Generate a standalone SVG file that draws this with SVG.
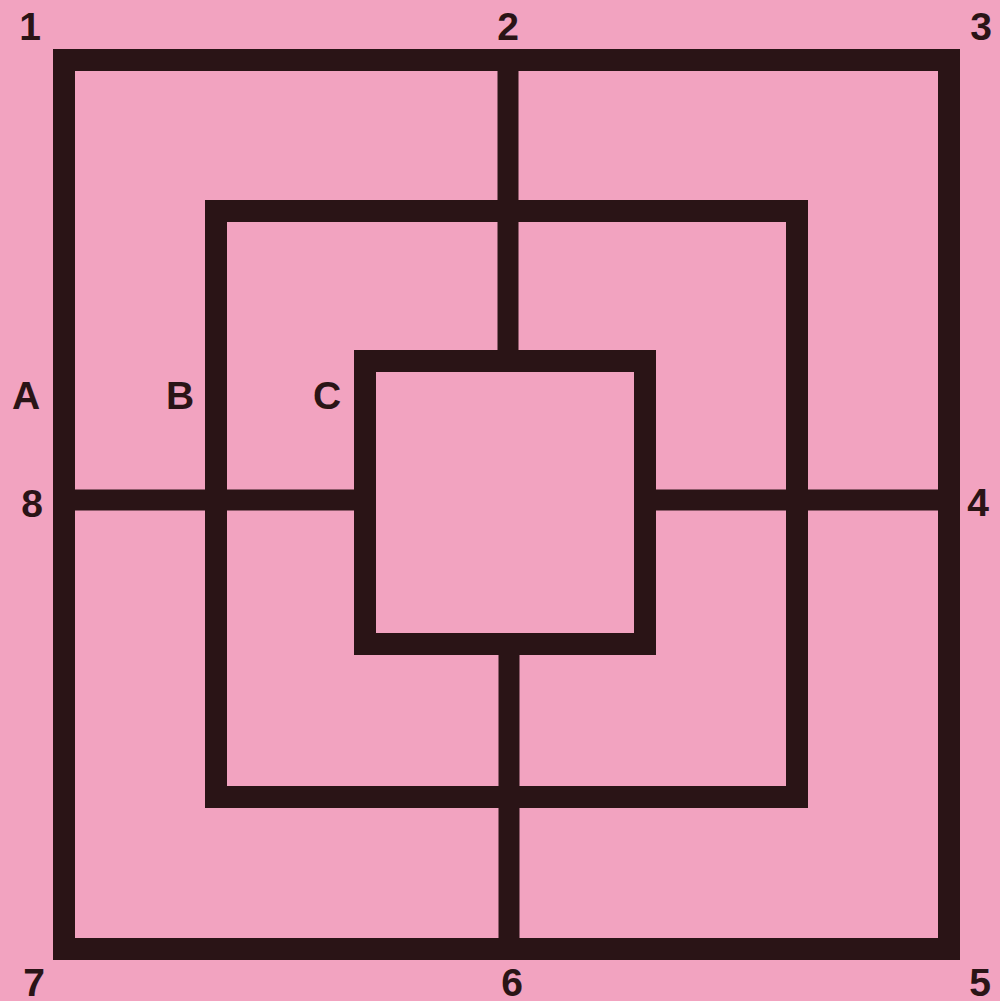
<svg xmlns="http://www.w3.org/2000/svg" width="1000" height="1001" viewBox="0 0 1000 1001">
  <style>
    .sq { fill: none; stroke: #2a1416; stroke-width: 22; stroke-linejoin: miter; }
    .ln { stroke: #2a1416; stroke-width: 21; stroke-linecap: butt; }
    .lbl { font-family: "Liberation Sans", Arial, sans-serif; font-weight: bold; font-size: 39px; fill: #2a1416; text-anchor: middle; }
  </style>
  <rect x="0" y="0" width="1000" height="1001" fill="#f2a3c0"/>
  <g id="connectors">
    <line class="ln" x1="508" y1="60" x2="508" y2="361"/>
    <line class="ln" x1="509" y1="644" x2="509" y2="949"/>
    <line class="ln" x1="64" y1="500" x2="365" y2="500"/>
    <line class="ln" x1="645" y1="500" x2="948" y2="500"/>
  </g>
  <g id="square-A">
    <rect class="sq" x="64" y="60" width="885" height="889"/>
  </g>
  <g id="square-B">
    <rect class="sq" x="216" y="211" width="581" height="586"/>
  </g>
  <g id="square-C">
    <rect class="sq" x="365" y="361" width="280" height="283"/>
  </g>
  <g id="labels">
    <text class="lbl" x="30" y="40">1</text>
    <text class="lbl" x="508" y="40">2</text>
    <text class="lbl" x="981" y="40">3</text>
    <text class="lbl" x="978" y="516">4</text>
    <text class="lbl" x="980" y="996">5</text>
    <text class="lbl" x="512" y="996">6</text>
    <text class="lbl" x="34" y="996">7</text>
    <text class="lbl" x="32" y="517">8</text>
    <text class="lbl" x="26" y="409">A</text>
    <text class="lbl" x="180" y="409">B</text>
    <text class="lbl" x="327" y="409">C</text>
  </g>
</svg>
